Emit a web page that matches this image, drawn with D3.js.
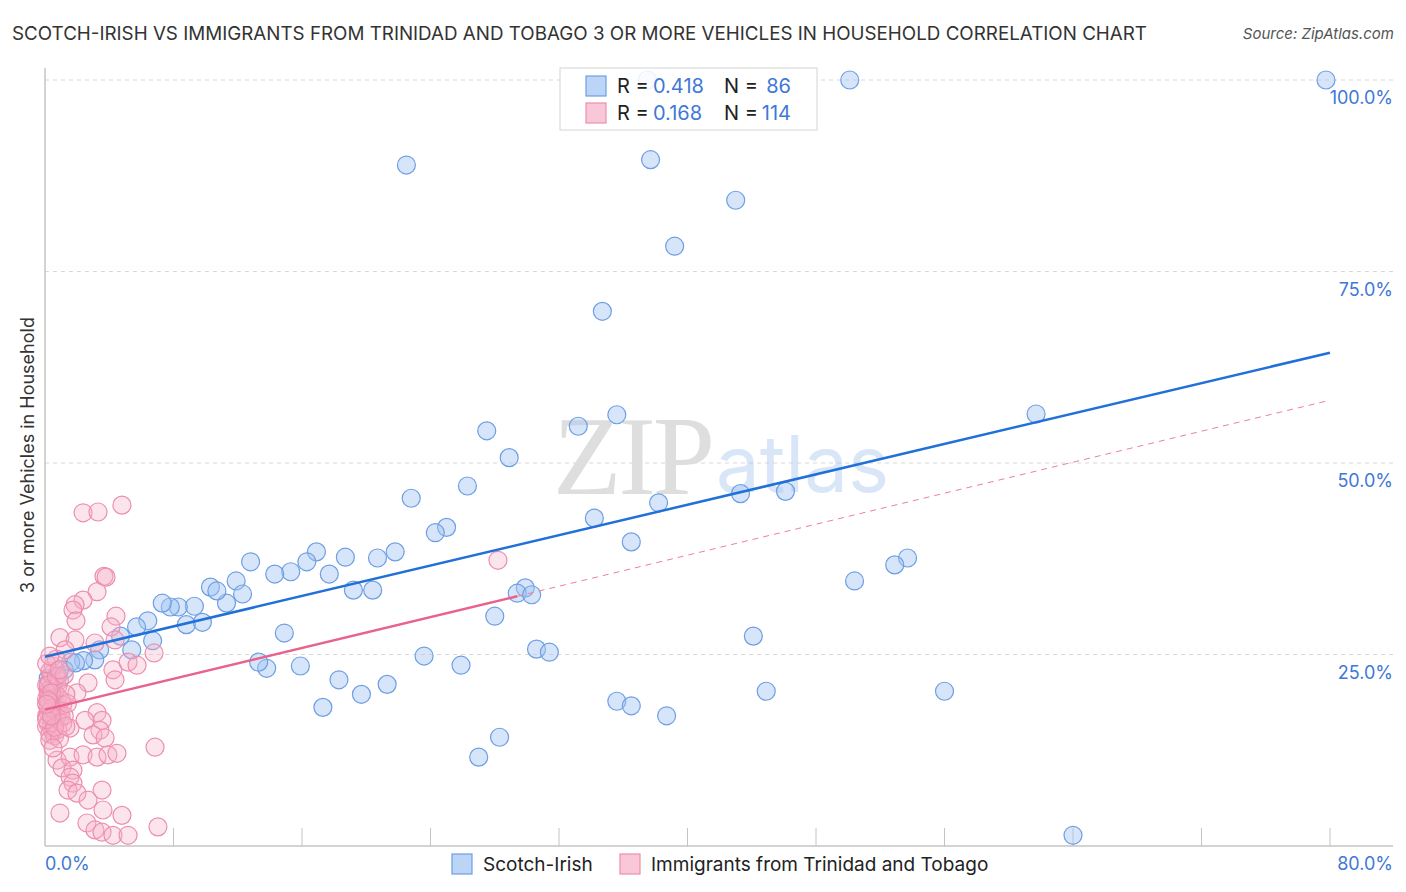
<!DOCTYPE html>
<html><head><meta charset="utf-8">
<script src="https://cdn.jsdelivr.net/npm/d3@7"></script>
<style>
body{margin:0;background:#fff;font-family:"Inter","Open Sans",sans-serif;}
</style></head><body>
<svg id="c" width="1406" height="892"></svg>
<script>
const title = "SCOTCH-IRISH VS IMMIGRANTS FROM TRINIDAD AND TOBAGO 3 OR MORE VEHICLES IN HOUSEHOLD CORRELATION CHART";
const source = "Source: ZipAtlas.com";
const yAxisTitle = "3 or more Vehicles in Household";
const seriesNames = ["Scotch-Irish", "Immigrants from Trinidad and Tobago"];
const legendR = ["0.418", "0.168"];
const legendN = ["86", "114"];
const yTicks = [25, 50, 75, 100];
const xTicks = [0, 8, 16, 24, 32, 40, 48, 56, 64, 72, 80];
const xLabels = ["0.0%", "80.0%"];

const scotchIrish = [
[79.75,100],[50.1,100],[37.5,100],[22.5,88.9],[37.7,89.6],[43.0,84.3],[39.2,78.3],[34.7,69.8],
[61.7,56.4],[35.6,56.3],[33.2,54.8],[27.5,54.2],[28.9,50.7],[22.8,45.4],[26.3,47.0],[38.2,44.8],
[43.3,46.0],[46.1,46.3],[34.2,42.8],[25.0,41.6],[24.3,40.9],[36.5,39.7],[53.7,37.6],[52.9,36.7],
[50.4,34.6],[29.9,33.7],[29.4,33.0],[30.3,32.8],[28.0,30.0],[44.1,27.4],[30.6,25.7],[31.4,25.3],
[23.6,24.8],[25.9,23.6],[44.9,20.2],[56.0,20.2],[35.6,18.9],[36.5,18.3],[38.7,17.0],[28.3,14.2],
[27.0,11.6],[64.0,1.4],[21.3,21.1],[19.7,19.8],[18.3,21.7],[17.3,18.1],[15.9,23.5],[14.9,27.8],
[13.8,23.2],[13.3,24.0],[21.8,38.4],[20.7,37.6],[18.7,37.7],[16.9,38.4],[16.3,37.1],[15.3,35.8],
[14.3,35.5],[17.7,35.5],[19.2,33.4],[20.4,33.4],[12.8,37.1],[11.9,34.6],[12.3,32.9],[11.3,31.7],
[10.3,33.8],[10.7,33.3],[9.3,31.3],[8.3,31.2],[7.8,31.2],[7.3,31.7],[8.8,28.9],[9.8,29.2],
[6.4,29.4],[5.7,28.6],[6.7,26.8],[5.4,25.6],[4.7,27.4],[3.4,25.6],[3.1,24.3],[2.4,24.2],
[1.6,24.0],[1.2,23.0],[0.8,22.2],[0.4,20.4],[0.2,21.9],[1.9,23.9]
];

const trinidad = [
[2.37,43.5],[3.30,43.6],[4.79,44.5],[3.67,35.2],[3.80,35.1],[3.24,33.2],[2.37,32.1],[1.87,31.5],
[1.74,30.8],[4.42,30.0],[1.93,29.4],[4.11,28.6],[0.93,27.2],[1.87,26.9],[1.25,25.6],[3.11,26.5],
[4.36,26.9],[4.23,23.0],[4.36,21.7],[2.68,21.3],[5.17,24.0],[5.73,23.6],[6.79,25.2],[1.99,20.0],
[3.24,17.4],[3.55,16.4],[2.49,16.4],[1.56,15.4],[3.42,15.1],[2.99,14.5],[3.74,14.1],[0.75,11.2],
[1.56,11.6],[2.37,11.9],[3.24,11.6],[3.92,11.9],[4.48,12.1],[1.06,10.2],[1.74,9.9],[1.56,9.0],
[1.74,8.2],[1.43,7.3],[1.99,6.9],[3.55,7.3],[2.68,6.0],[0.93,4.3],[3.61,4.7],[2.61,3.0],
[4.79,4.0],[3.11,2.1],[3.55,1.8],[4.23,1.4],[5.17,1.4],[7.03,2.5],[6.85,12.9],[28.2,37.3],
[0.1,21.0],[0.2,20.3],[0.2,19.8],[0.3,18.9],[0.2,18.2],[0.3,17.6],[0.1,17.0],[0.4,16.5],
[0.2,16.0],[0.4,15.4],[0.5,21.2],[0.6,20.1],[0.5,19.3],[0.6,18.6],[0.7,17.9],[0.5,17.2],
[0.7,16.8],[0.6,16.1],[0.5,15.0],[0.8,19.5],[0.8,18.3],[0.9,17.5],[0.8,20.8],[0.3,21.5],
[0.3,22.8],[0.4,22.4],[0.9,21.6],[1.0,19.0],[1.0,16.9],[1.1,18.4],[0.1,19.2],[0.1,15.6],
[0.3,14.6],[0.6,14.4],[0.8,15.2],[1.1,16.0],[0.2,21.0],[0.4,20.0],[0.7,22.2],[0.2,17.4],
[1.2,17.0],[1.3,19.8],[0.3,13.8],[0.5,23.5],[0.7,24.4],[0.1,23.8],[1.2,22.3],[0.9,14.0],
[0.4,18.0],[0.1,16.5],[0.5,12.8],[1.4,18.6],[0.3,24.8],[0.9,23.0],[0.2,19.0],[0.6,15.5],
[0.4,17.0],[1.3,15.6],[0.1,18.5]
];

const blueTrend = [[0,24.7],[80,64.4]];
const pinkTrendSolid = [[0,17.8],[29.4,32.6]];
const pinkTrendDashed = [[29.4,32.6],[80,58.2]];

const svg = d3.select("#c");
const x = d3.scaleLinear().domain([0,80]).range([45,1330]);
const y = d3.scaleLinear().domain([0,100]).range([846,80]);
const blueStroke = "#6e9fe3", blueFill = "rgba(165,198,242,0.45)";
const pinkStroke = "#ec8fae", pinkFill = "rgba(247,177,200,0.35)";
const tickBlue = "#3f78d6";

// gridlines
svg.append("g").selectAll("line").data(yTicks).join("line")
  .attr("x1",45).attr("x2",1393).attr("y1",d=>y(d)).attr("y2",d=>y(d))
  .attr("stroke","#d8d8d8").attr("stroke-dasharray","4,4").attr("stroke-width",1);

// watermark
svg.append("text").attr("x",553).attr("y",494).text("ZIP")
  .attr("font-family","Liberation Serif, DejaVu Serif, serif").attr("font-size",112)
  .attr("fill","#dedede").attr("letter-spacing",-3);
svg.append("text").attr("x",716).attr("y",492).text("atlas")
  .attr("font-family","Inter, sans-serif").attr("font-size",78)
  .attr("fill","rgba(170,200,240,0.45)");

// axes
svg.append("line").attr("x1",45).attr("x2",1393).attr("y1",846).attr("y2",846)
  .attr("stroke","#c4c4c4").attr("stroke-width",1.5);
svg.append("line").attr("x1",45).attr("x2",45).attr("y1",68).attr("y2",846)
  .attr("stroke","#c4c4c4").attr("stroke-width",1.5);
svg.append("g").selectAll("line").data(xTicks.slice(1)).join("line")
  .attr("x1",d=>x(d)).attr("x2",d=>x(d)).attr("y1",828).attr("y2",846)
  .attr("stroke","#c4c4c4").attr("stroke-width",1);

// points
svg.append("g").selectAll("circle").data(scotchIrish).join("circle")
  .attr("cx",d=>x(d[0])).attr("cy",d=>y(d[1])).attr("r",9)
  .attr("fill",blueFill).attr("stroke",blueStroke).attr("stroke-width",1.2);
svg.append("g").selectAll("circle").data(trinidad).join("circle")
  .attr("cx",d=>x(d[0])).attr("cy",d=>y(d[1])).attr("r",9)
  .attr("fill",pinkFill).attr("stroke",pinkStroke).attr("stroke-width",1.2);

// trend lines
const line = d3.line().x(d=>x(d[0])).y(d=>y(d[1]));
svg.append("path").attr("d",line(pinkTrendDashed)).attr("stroke","#ec7fa0")
  .attr("stroke-width",1).attr("stroke-dasharray","6,5").attr("fill","none");
svg.append("path").attr("d",line(pinkTrendSolid)).attr("stroke","#e9628d")
  .attr("stroke-width",2.5).attr("fill","none");
svg.append("path").attr("d",line(blueTrend)).attr("stroke","#2070d8")
  .attr("stroke-width",2.5).attr("fill","none");

// y tick labels (right)
svg.append("g").selectAll("text").data(yTicks).join("text")
  .attr("x",1393).attr("y",d=>y(d)+24).attr("text-anchor","end")
  .attr("font-size",18).attr("fill",tickBlue).text(d=>d.toFixed(1)+"%");

// x labels
svg.append("text").attr("x",45).attr("y",870).attr("font-size",18).attr("fill",tickBlue).text(xLabels[0]);
svg.append("text").attr("x",1393).attr("y",870).attr("text-anchor","end").attr("font-size",18).attr("fill",tickBlue).text(xLabels[1]);

// title
svg.append("text").attr("x",12).attr("y",40).attr("font-size",18.8).attr("fill","#333").text(title);
svg.append("text").attr("x",1394).attr("y",39).attr("text-anchor","end").attr("font-size",15)
  .attr("font-style","italic").attr("fill","#555").text(source);

// y axis title
svg.append("text").attr("transform","translate(34,455) rotate(-90)").attr("text-anchor","middle")
  .attr("font-size",18).attr("fill","#333").text(yAxisTitle);

// top legend
const lg = svg.append("g");
lg.append("rect").attr("x",560).attr("y",68).attr("width",257).attr("height",62)
  .attr("fill","rgba(255,255,255,0.85)").attr("stroke","#d4d4d4");
const cols = [[blueFill,blueStroke],[pinkFill,pinkStroke]];
[0,1].forEach(i=>{
  const yy = 86 + i*27;
  lg.append("rect").attr("x",586).attr("y",yy-10).attr("width",20).attr("height",20)
    .attr("fill",i===0?"rgba(165,198,242,0.75)":"rgba(247,177,200,0.7)").attr("stroke",cols[i][1]).attr("stroke-width",1.2);
  lg.append("text").attr("x",617).attr("y",yy+7).attr("font-size",20).attr("fill","#222").text("R = ");
  lg.append("text").attr("x",653).attr("y",yy+7).attr("font-size",20).attr("fill",tickBlue).text(legendR[i]);
  lg.append("text").attr("x",724).attr("y",yy+7).attr("font-size",20).attr("fill","#222").text("N = ");
  lg.append("text").attr("x",791).attr("y",yy+7).attr("text-anchor","end").attr("font-size",20).attr("fill",tickBlue).text(legendN[i]);
});

// bottom legend
const bl = svg.append("g");
const bx = [452, 620];
[0,1].forEach(i=>{
  bl.append("rect").attr("x",bx[i]).attr("y",854).attr("width",20).attr("height",20)
    .attr("fill",i===0?"rgba(165,198,242,0.75)":"rgba(247,177,200,0.7)").attr("stroke",cols[i][1]).attr("stroke-width",1.2);
  bl.append("text").attr("x",bx[i]+31).attr("y",871).attr("font-size",19).attr("fill","#222").text(seriesNames[i]);
});
</script></body></html>
